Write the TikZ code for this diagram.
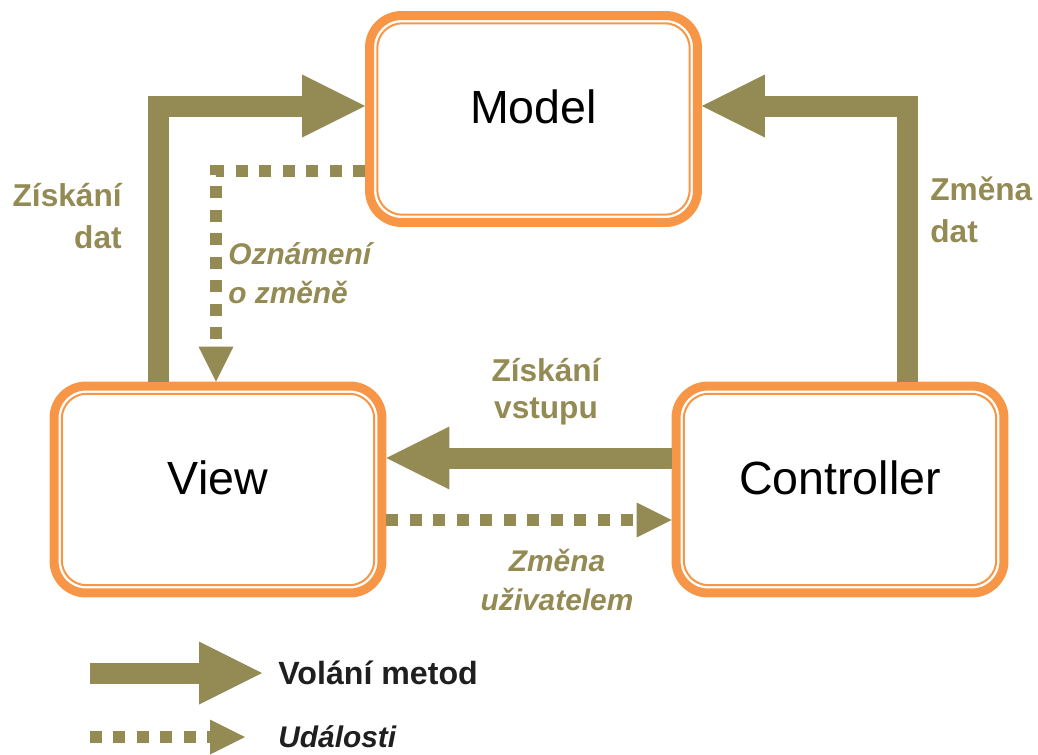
\documentclass[tikz,border=0pt]{standalone}
\usepackage{fontspec}
\setmainfont{Liberation Sans}
\usepackage{xcolor}
\usepackage{tikz}
\usetikzlibrary{arrows.meta}

\definecolor{arrowolive}{HTML}{948A54}
\definecolor{boxorange}{HTML}{F79646}
\definecolor{legendtext}{HTML}{1F1F1F}

\tikzset{
    part/.style={draw=boxorange, line width=0.18cm, rounded corners=0.64cm,
        minimum width=6.56cm, minimum height=4.14cm, inner sep=0pt,
        text height=0.7cm, text depth=0.52cm, font=\fontsize{26.5}{30}\selectfont},
    rim/.style={draw=boxorange, line width=0.04cm, rounded corners=0.5cm,
        minimum width=6.25cm, minimum height=3.83cm, inner sep=0pt},
    call/.style={draw=arrowolive, line width=0.42cm,
        -{Triangle[width=1.26cm, length=1.26cm, line width=0pt]}},
    event/.style={draw=arrowolive, line width=0.24cm, dash pattern=on 0.24cm off 0.23cm,
        -{Triangle[width=0.7cm, length=0.7cm, line width=0pt]}},
    lbl/.style={text=arrowolive, font=\fontsize{18}{24}\selectfont\bfseries, inner sep=0pt},
    lblit/.style={lbl, font=\fontsize{17}{22}\selectfont\bfseries\itshape},
    legend/.style={text=legendtext, font=\fontsize{18.3}{23}\selectfont\bfseries,
        inner sep=0pt, anchor=west},
}

\begin{document}
\begin{tikzpicture}[x=0.02cm, y=-0.02cm]
    \useasboundingbox (0,0) rectangle (1038,754);

    % the three parts
    \node[part] (model) at (533.5,119) {Model};
    \node[rim] (model-rim) at (model.center) {};
    \node[part] (view) at (218,489.5) {View};
    \node[rim] (view-rim) at (view.center) {};
    \node[part] (controller) at (840,489.5) {Controller};
    \node[rim] (controller-rim) at (controller.center) {};

    % method calls
    \draw[call] ([xshift=-1.2cm]view.north) |- ([yshift=0.26cm]model.west);
    \draw[call] ([xshift=1.35cm]controller.north) |- ([yshift=0.26cm]model.east);
    \draw[call] ([yshift=0.63cm]controller.west) -- ([yshift=0.63cm]view.east);

    % events
    \draw[event] ([yshift=-1.04cm]model.west) -| ([xshift=-0.04cm]view.north);
    \draw[event] ([yshift=-0.61cm]view.east) -- ([yshift=-0.61cm]controller.west);

    \node[lbl, align=right, anchor=east] (get-data) at (122,216) {Získání\\dat};
    \node[lbl, align=left, anchor=west] (set-data) at (930,210) {Změna\\dat};
    \node[lblit, align=left, anchor=west] (notify) at (228,273) {Oznámení\\o změně};
    \node[lbl, align=center, font=\fontsize{18}{21}\selectfont\bfseries]
        (get-input) at (546,392) {Získání\\vstupu};
    \node[lblit, align=center] (user-change) at (557,580) {Změna\\uživatelem};

    % key
    \coordinate (call-key) at (90,673);
    \node[legend] (call-text) at (278,673) {Volání metod};
    \draw[call] (call-key) -- ([xshift=-0.32cm]call-text.west);
    \coordinate (event-key) at (90,737);
    \node[legend, font=\fontsize{17}{23}\selectfont\bfseries\itshape] (event-text) at (278,737) {Události};
    \draw[event] (event-key) -- ([xshift=-0.66cm]event-text.west);
\end{tikzpicture}
\end{document}
